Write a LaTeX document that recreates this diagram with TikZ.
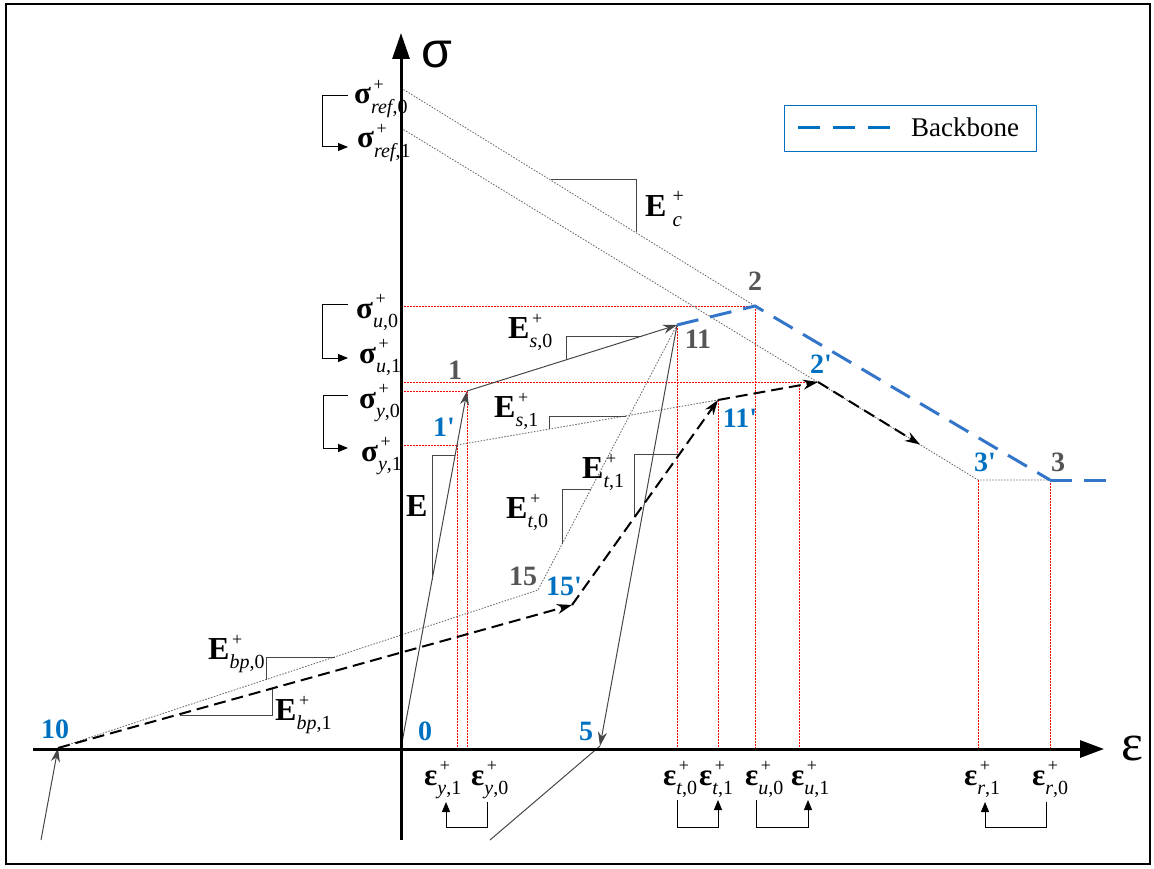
\documentclass[tikz,border=0pt]{standalone}
\usepackage{fontspec}
\setmainfont{Liberation Serif}
\newfontfamily\axisfont{Liberation Sans}
\usetikzlibrary{arrows.meta}
\definecolor{ptblue}{RGB}{0,112,192}
\definecolor{ptgray}{RGB}{85,85,85}
\definecolor{bbblue}{RGB}{51,117,200}
\definecolor{lngray}{RGB}{70,70,70}
\definecolor{dotgray}{RGB}{110,110,110}
\newcommand{\symlab}[3]{\textbf{#1}\rlap{\hspace{0.08em}\raisebox{0.42em}{\fontsize{18}{18}\selectfont +}}\raisebox{-0.3em}{\fontsize{20}{20}\selectfont\textit{#2},#3}}
\newcommand{\pr}{\textquotesingle}
\tikzset{
  frameline/.style={line width=1.5pt},
  axisline/.style={line width=3pt},
  reddot/.style={red, line width=0.9pt, dash pattern=on 1.5pt off 1.5pt},
  graydot/.style={dotgray, line width=0.9pt, dash pattern=on 1.5pt off 1.5pt},
  solidpath/.style={lngray, line width=1pt},
  blackdash/.style={black, line width=2pt, dash pattern=on 12pt off 6pt},
  backbone/.style={bbblue, line width=3pt, dash pattern=on 22pt off 12pt},
  tri/.style={lngray, line width=1pt},
  bracket/.style={black, line width=1pt},
  gtip/.style={-{Stealth[length=14pt,width=9pt]}},
  btip/.style={-{Stealth[length=15pt,width=10pt]}},
  smalltip/.style={-{Triangle[length=10pt,width=8pt]}},
  ptb/.style={font=\fontsize{28}{28}\selectfont\bfseries, text=ptblue, inner sep=0pt},
  ptg/.style={font=\fontsize{28}{28}\selectfont\bfseries, text=ptgray, inner sep=0pt},
  siglab/.style={font=\fontsize{31}{31}\selectfont, inner sep=0pt, anchor=base west},
  elab/.style={font=\fontsize{32}{32}\selectfont, inner sep=0pt, anchor=base west},
}
\begin{document}
\begin{tikzpicture}[x=1pt,y=-1pt]
\useasboundingbox (0,0) rectangle (1154,869);
\draw[frameline] (6,4) rectangle (1150,864);

% key points
\coordinate (O) at (401,748);
\coordinate (P1) at (467,391);
\coordinate (P1p) at (457,445);
\coordinate (P11) at (677,325);
\coordinate (P11p) at (718,400);
\coordinate (P2) at (755,306);
\coordinate (P2p) at (818,382);
\coordinate (P3) at (1050,480);
\coordinate (P3p) at (978,480);
\coordinate (P5) at (600,746);
\coordinate (P10) at (58,748);
\coordinate (P15) at (538,590);
\coordinate (P15p) at (572,605);
\coordinate (Start) at (41,840);
\coordinate (End5) at (490,840);
\coordinate (Ref0) at (401,88);
\coordinate (Ref1) at (401,128);
\coordinate (U1) at (799,385);
\coordinate (Amid) at (920,444.5);
\coordinate (BBend) at (1112,480);

% red projection lines
\draw[reddot] (O |- P2) -- (P2);
\draw[reddot] (O |- P2p) -- (P2p);
\draw[reddot] (O |- P1) -- (P1);
\draw[reddot] (O |- P1p) -- (P1p);
\foreach \p in {P1p,P1,P11,P11p,P2,U1,P3p,P3}
  \draw[reddot] (\p) -- (\p |- O);

% gray dotted lines
\draw[graydot] (Ref0) -- (P2);
\draw[graydot] (Ref1) -- (P3p) -- (P3);
\draw[graydot] (P11) -- (P15) -- (P10);
\draw[graydot] (P1p) -- (P11p);

% modulus triangles
\draw[tri] (432,580) -- (432,455) -- (455,455);
\draw[tri] (566,360) -- (566,336) -- (642,336);
\draw[tri] (549,429) -- (549,416) -- (626,416);
\draw[tri] (562,544) -- (562,489) -- (591,489);
\draw[tri] (634,517) -- (634,454) -- (680,454);
\draw[tri] (551,180) -- (636,180) -- (636,232);
\draw[tri] (266,680) -- (266,657) -- (335,657);
\draw[tri] (180,715) -- (272,715) -- (272,689);

% solid loading path
\draw[solidpath, gtip] (Start) -- (P10);
\draw[solidpath, gtip] (O) -- (P1);
\draw[solidpath, gtip] (P1) -- (P11);
\draw[solidpath, gtip] (P11) -- (P5);
\draw[solidpath] (P5) -- (End5);

% black dashed path
\draw[blackdash, btip] (P10) -- (P15p);
\draw[blackdash, btip] (P15p) -- (P11p);
\draw[blackdash, btip] (P11p) -- (P2p);
\draw[blackdash, btip] (P2p) -- (Amid);

% backbone
\draw[backbone] (P11) -- (P2) -- (P3);
\draw[backbone] (P3) -- (BBend);

% axes
\coordinate (Ybot) at (401,840);
\coordinate (Ytop) at (401,33);
\coordinate (Xl) at (33,749);
\coordinate (Xr) at (1104,749);
\draw[axisline, -{Triangle[length=26pt,width=17pt]}] (Ybot) -- (Ytop);
\draw[axisline, -{Triangle[length=24pt,width=17pt]}] (Xl) -- (Xr);
\node[font=\fontsize{50}{50}\selectfont\axisfont] (sig) at (437,55) {σ};
\node[font=\fontsize{52}{52}\selectfont] (eps) at (1132,748) {ε};

% point labels
\node[ptb] (l10) at (55,729) {10};
\node[ptb] (l0) at (425,731) {0};
\node[ptb] (l5) at (586,731) {5};
\node[ptg] (l15) at (523,576) {15};
\node[ptb] (l15p) at (564,586) {15\pr};
\node[ptg] (l11) at (698,339) {11};
\node[ptb] (l11p) at (740,418) {11\pr};
\node[ptg] (l1) at (455,370) {1};
\node[ptb] (l1p) at (444,427) {1\pr};
\node[ptg] (l2) at (755,281) {2};
\node[ptb] (l2p) at (821,364) {2\pr};
\node[ptb] (l3p) at (985,462) {3\pr};
\node[ptg] (l3) at (1058,462) {3};

% sigma labels
\node[siglab] (sref0) at (354,104) {\symlab{σ}{ref}{0}};
\node[siglab] (sref1) at (357,148) {\symlab{σ}{ref}{1}};
\node[siglab] (su0) at (356,318) {\symlab{σ}{u}{0}};
\node[siglab] (su1) at (359,363) {\symlab{σ}{u}{1}};
\node[siglab] (sy0) at (359,408) {\symlab{σ}{y}{0}};
\node[siglab] (sy1) at (361,461) {\symlab{σ}{y}{1}};

% sigma brackets
\draw[bracket, smalltip] (348,96) -- (322,96) -- (322,147) -- (348,147);
\draw[bracket, smalltip] (348,304) -- (322,304) -- (322,358) -- (348,358);
\draw[bracket, smalltip] (348,395) -- (323,395) -- (323,448) -- (348,448);

% epsilon labels
\node[siglab] (ey1) at (424,785) {\symlab{ε}{y}{1}};
\node[siglab] (ey0) at (471,785) {\symlab{ε}{y}{0}};
\node[siglab] (et0) at (663,785) {\symlab{ε}{t}{0}};
\node[siglab] (et1) at (699,785) {\symlab{ε}{t}{1}};
\node[siglab] (eu0) at (745,785) {\symlab{ε}{u}{0}};
\node[siglab] (eu1) at (791,785) {\symlab{ε}{u}{1}};
\node[siglab] (er1) at (964,785) {\symlab{ε}{r}{1}};
\node[siglab] (er0) at (1032,785) {\symlab{ε}{r}{0}};

% epsilon brackets
\draw[bracket, smalltip] (487,802) -- (487,827) -- (446,827) -- (446,802);
\draw[bracket, smalltip] (677,800) -- (677,827) -- (718,827) -- (718,800);
\draw[bracket, smalltip] (756,800) -- (756,827) -- (808,827) -- (808,800);
\draw[bracket, smalltip] (1046,802) -- (1046,827) -- (985,827) -- (985,802);

% modulus labels
\node[elab] (E) at (406,516) {\textbf{E}};
\node[elab] (Es0) at (508,338) {\symlab{E}{s}{0}};
\node[elab] (Es1) at (494,417) {\symlab{E}{s}{1}};
\node[elab] (Et0) at (506,518) {\symlab{E}{t}{0}};
\node[elab] (Et1) at (582,478) {\symlab{E}{t}{1}};
\node[elab] (Ebp0) at (208,659) {\symlab{E}{bp}{0}};
\node[elab] (Ebp1) at (275,720) {\symlab{E}{bp}{1}};
\node[elab] (Ec) at (645,217) {\textbf{E}\hspace{6pt}\rlap{\raisebox{0.45em}{\fontsize{20}{20}\selectfont +}}\raisebox{-0.3em}{\fontsize{21}{21}\selectfont\textit{c}}};

% legend
\node[draw=ptblue, line width=1pt, minimum width=252pt, minimum height=46pt, inner sep=0pt] (leg) at (910,129) {};
\coordinate (legA) at (798,128);
\coordinate (legB) at (893,128);
\draw[ptblue, line width=3pt, dash pattern=on 22pt off 13pt] (legA) -- (legB);
\node[font=\fontsize{27}{27}\selectfont, inner sep=0pt, anchor=base west] (legtxt) at (911,137) {Backbone};
\end{tikzpicture}
\end{document}
